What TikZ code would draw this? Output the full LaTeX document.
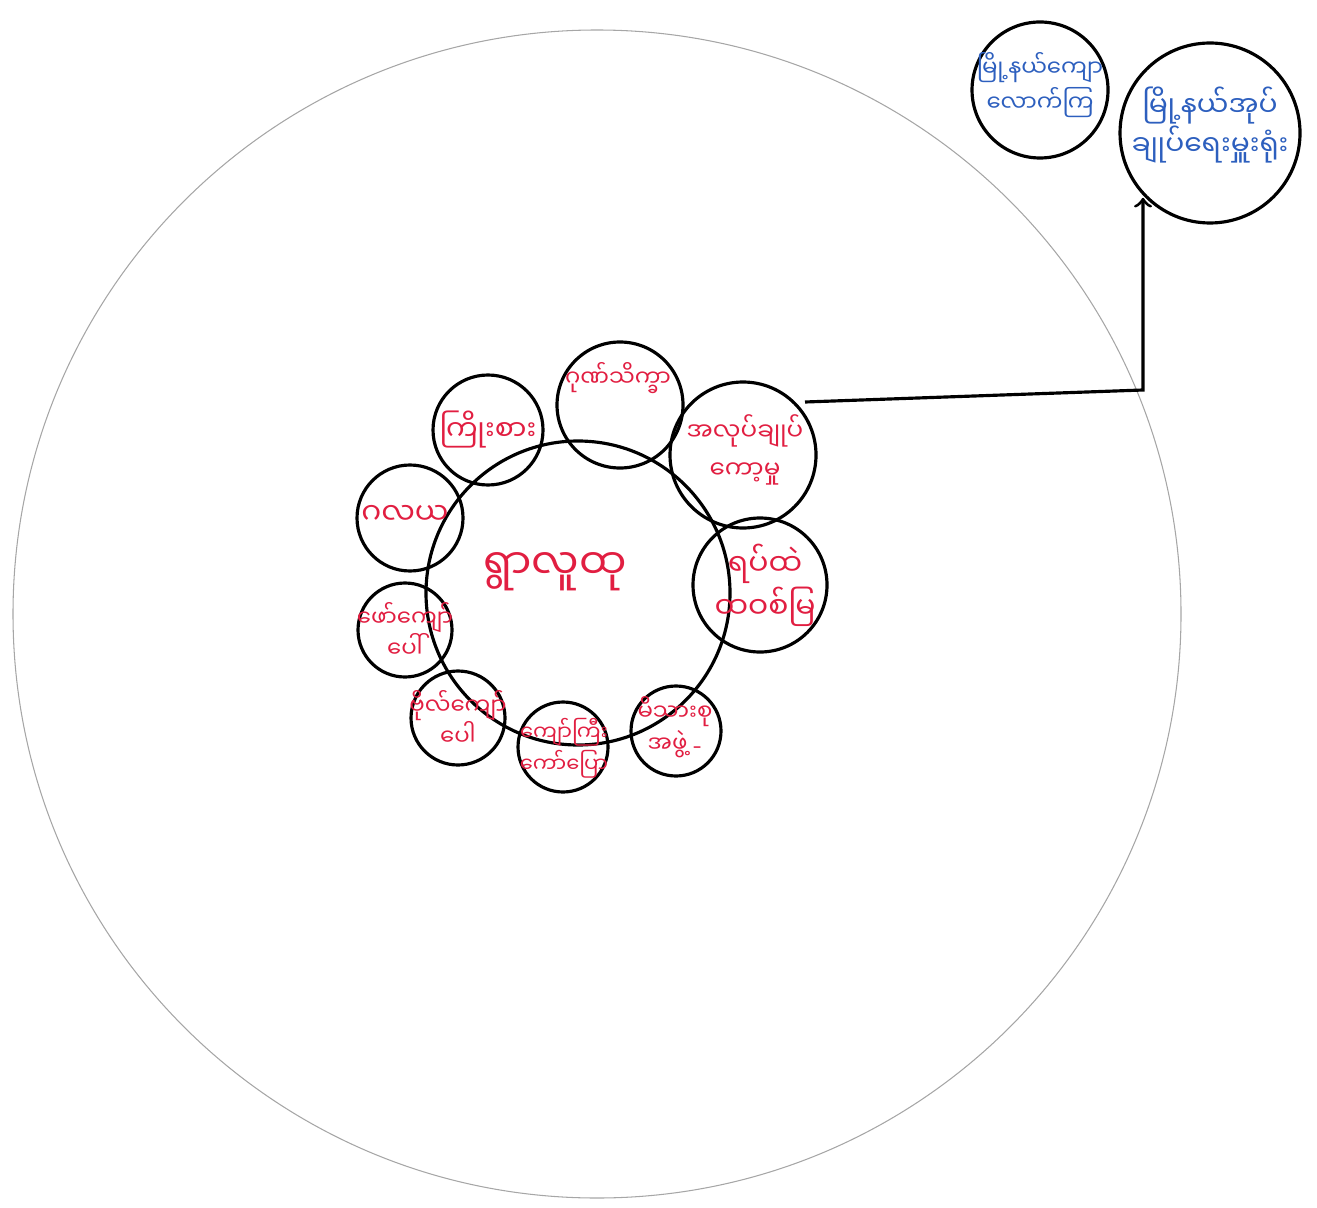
\documentclass[tikz,border=0pt]{standalone}
\usepackage{fontspec}
\usepackage{xcolor}
\newfontfamily\mmfont[Script=Myanmar]{Noto Sans Myanmar UI}
\definecolor{penred}{RGB}{225,30,65}
\definecolor{penblue}{RGB}{45,95,190}

\begin{document}
\begin{tikzpicture}[
        bubble/.style={circle, draw, line width=0.9pt, inner sep=0pt},
        redtxt/.style={text=penred, font=\mmfont\fontsize{8.5}{11}\selectfont, align=center, inner sep=0pt},
        redsmall/.style={redtxt, font=\mmfont\fontsize{6.5}{9}\selectfont},
        bluetxt/.style={text=penblue, font=\mmfont\fontsize{8}{11}\selectfont, align=center, inner sep=0pt}]
    \useasboundingbox (0,0) rectangle (13.17,-12.07);
    % outer circle
    \draw[gray!70, line width=0.3pt] (5.97,-6.14) circle (5.84);
    % inner circle
    \node[bubble, minimum size=3.04cm] (hub) at (5.78,-5.93) {};
    \node[redtxt, font=\mmfont\fontsize{12}{14}\selectfont] (hubtxt) at (5.55,-5.72) {ရွာလူထု};
    % ring of small circles
    \node[bubble, minimum size=1.10cm] (effort) at (4.88,-4.30) {};
    \node[redtxt, font=\mmfont\fontsize{8}{10}\selectfont] (efforttxt) at (effort) {ကြိုးစား};
    \node[bubble, minimum size=1.26cm] (honour) at (6.20,-4.05) {};
    \node[redsmall] (honourtxt) at (6.18,-3.78) {ဂုဏ်သိက္ခာ};
    \node[bubble, minimum size=1.46cm] (work) at (7.43,-4.55) {};
    \node[redsmall, font=\mmfont\fontsize{7}{11}\selectfont] (worktxt) at (7.45,-4.50) {အလုပ်ချုပ်\\ကော့မှု};
    \node[bubble, minimum size=1.34cm] (ward) at (7.60,-5.85) {};
    \node[redtxt] (wardtxt) at (7.65,-5.85) {ရပ်ထဲ\\ထဝစ်မြ};
    \node[bubble, minimum size=1.06cm] (galaya) at (4.10,-5.18) {};
    \node[redtxt] (galayatxt) at (4.05,-5.15) {ဂလယ};
    \node[bubble, minimum size=0.94cm] (phaw) at (4.05,-6.30) {};
    \node[redsmall] (phawtxt) at (phaw) {ဖော်ကျော်\\ပေါ်};
    \node[bubble, minimum size=0.94cm] (bo) at (4.58,-7.18) {};
    \node[redsmall] (botxt) at (bo) {ဗိုလ်ကျော်\\ပေါ};
    \node[bubble, minimum size=0.90cm] (kyaw) at (5.63,-7.47) {};
    \node[redsmall, font=\mmfont\fontsize{6}{9}\selectfont] (kyawtxt) at (5.64,-7.48) {ကျော်ကြီး\\ကော်ပြော};
    \node[bubble, minimum size=0.90cm] (family) at (6.76,-7.31) {};
    \node[redsmall] (familytxt) at (6.75,-7.27) {မိသားစု\\အဖွဲ့ {\rmfamily-}};
    % township circles
    \node[bubble, minimum size=1.36cm] (b1) at (10.40,-0.90) {};
    \node[bluetxt, font=\mmfont\fontsize{6.5}{10}\selectfont] (b1txt) at (10.40,-0.85) {မြို့နယ်ကျော\\လောက်ကြ};
    \node[bubble, minimum size=1.80cm] (b2) at (12.10,-1.33) {};
    \node[bluetxt] (b2txt) at (12.10,-1.25) {မြို့နယ်အုပ်\\ချုပ်ရေးမှူးရုံး};
    % arrow
    \coordinate (start) at (8.05,-4.02);
    \coordinate (bend) at (11.43,-3.90);
    \draw[->, line width=0.9pt] (start) -- (bend) -- (bend |- b2.south west);
\end{tikzpicture}
\end{document}
